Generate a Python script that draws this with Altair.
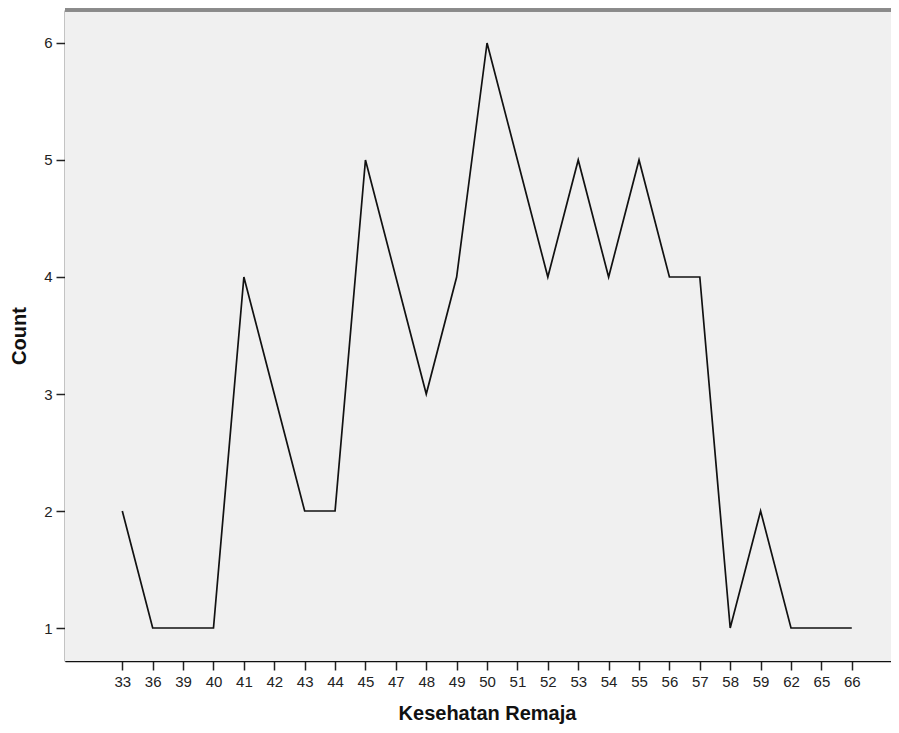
import altair as alt
import pandas as pd

categories = ["33", "36", "39", "40", "41", "42", "43", "44", "45", "47", "48", "49",
              "50", "51", "52", "53", "54", "55", "56", "57", "58", "59", "62", "65", "66"]
counts = [2, 1, 1, 1, 4, 3, 2, 2, 5, 4, 3, 4, 6, 5, 4, 5, 4, 5, 4, 4, 1, 2, 1, 1, 1]
y_ticks = [1, 2, 3, 4, 5, 6]

df = pd.DataFrame({"idx": list(range(len(categories))), "cat": categories, "count": counts})

W, H = 826, 651
label_arr = "[" + ",".join("'" + c + "'" for c in categories) + "]"

x_enc = alt.X(
    "idx:Q",
    scale=alt.Scale(domain=[-1.885, 25.29], nice=False, zero=False),
    axis=alt.Axis(
        values=list(range(len(categories))),
        labelExpr=label_arr + "[datum.value]",
        title="Kesehatan Remaja",
        grid=False,
        tickSize=9,
        tickWidth=1.5,
        tickColor="#222222",
        domainColor="#111111",
        domainWidth=1.5,
        labelFontSize=15,
        labelPadding=4,
        labelColor="#222222",
        titleFontSize=20,
        titleFontWeight="bold",
        titleColor="#111111",
        titleX=422,
        titleY=58,
        titleBaseline="alphabetic",
    ),
)
y_enc = alt.Y(
    "count:Q",
    scale=alt.Scale(domain=[0.718, 6.282], nice=False, zero=False),
    axis=alt.Axis(
        values=y_ticks,
        format="d",
        title="Count",
        grid=False,
        tickSize=9,
        tickWidth=1.5,
        tickColor="#222222",
        domainColor="#111111",
        domainWidth=1.5,
        labelFontSize=15,
        labelPadding=4,
        labelColor="#222222",
        titleFontSize=20,
        titleFontWeight="bold",
        titleColor="#111111",
        titleX=-40,
        titleBaseline="alphabetic",
    ),
)

bg = alt.Chart(df).mark_rect(color="#f0f0f0").encode(
    x=alt.value(0), x2=alt.value(W), y=alt.value(0), y2=alt.value(H)
)

line = alt.Chart(df).mark_line(color="#111111", strokeWidth=1.7).encode(x=x_enc, y=y_enc)

top_border = alt.Chart(df).mark_rule(color="#8a8a8a", strokeWidth=2.5).encode(
    x=alt.value(0), x2=alt.value(W), y=alt.value(0)
)

chart = (
    alt.layer(bg, line, top_border)
    .properties(
        width=W,
        height=H,
        autosize=alt.AutoSizeParams(type="none"),
        padding={"left": 57, "top": 2, "right": 0, "bottom": 64},
        background="white",
    )
    .configure_view(stroke=None)
    .configure(font="Liberation Sans")
)

chart.save("out.html", embed_options={"renderer": "svg", "actions": False})
